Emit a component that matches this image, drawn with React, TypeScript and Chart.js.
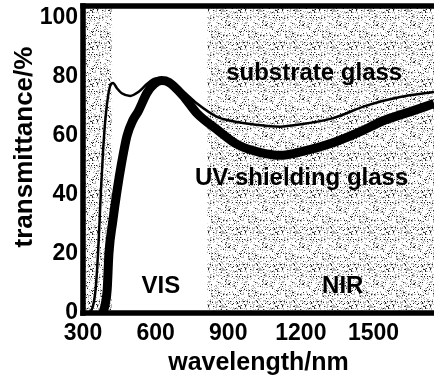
import React, { useEffect, useRef } from "react";
import { Chart, registerables } from "chart.js";

Chart.register(...registerables);

// substrate glass (thin line)
const substrateNm = [322, 340, 352, 362, 374, 383, 393, 403, 413, 424, 440, 460, 495, 530, 565, 600, 630, 660, 713, 771, 854, 920, 1000, 1114, 1200, 1330, 1474, 1610, 1750];
const substrateT = [0, 2, 8, 20, 41, 55, 66, 73, 77, 77.8, 76, 74.3, 73.4, 74.8, 77.5, 79.3, 79.2, 78, 75, 70.8, 66.3, 64.8, 63.8, 63, 63.8, 65.8, 70.2, 73, 74.7];

// UV-shielding glass (thick line)
const uvNm = [382, 392, 400, 407, 423, 440, 460, 482, 505, 527, 565, 595, 625, 655, 713, 771, 854, 937, 1030, 1114, 1200, 1330, 1450, 1540, 1650, 1750];
const uvT = [0, 3, 8, 20, 31, 41, 51, 60, 65, 68, 74.5, 77.5, 78.6, 78, 73.5, 67.5, 62, 57, 54.3, 53.3, 54.5, 57.5, 61.5, 65, 68, 70.8];

const xTicks = [300, 600, 900, 1200, 1500];
const yTicks = [0, 20, 40, 60, 80, 100];
const xMin = 300;
const xMax = 1750;
const yMin = 0;
const yMax = 103.8;

const shadeFrom = [300, 815];
const shadeTo = [420, 1750];

const noteText = ["substrate glass", "UV-shielding glass", "VIS", "NIR"];
const noteX = [1255, 1203, 622, 1373];
const noteY = [78.8, 43.3, 6.7, 6.7];

const xTitle = "wavelength/nm";
const yTitle = "transmittance/%";

const FONT = "'Liberation Sans', Arial, Helvetica, sans-serif";

export default function App() {
  const ref = useRef<HTMLCanvasElement>(null);

  useEffect(() => {
    document.body.style.margin = "0";
    const canvas = ref.current!;

    // stipple tile for shaded regions (deterministic texture)
    const T = 37;
    const tile = document.createElement("canvas");
    tile.width = T;
    tile.height = T;
    const tctx = tile.getContext("2d")!;
    tctx.fillStyle = "#ffffff";
    tctx.fillRect(0, 0, T, T);
    let s = 12345;
    for (let i = 0; i < T * T; i++) {
      s = (s * 1103515245 + 12345) & 0x7fffffff;
      const h = (s >> 8) % 100;
      if (h < 6) {
        tctx.fillStyle = "#222222";
        tctx.fillRect(i % T, Math.floor(i / T), 1, 1);
      } else if (h < 26) {
        tctx.fillStyle = "#b4b4b4";
        tctx.fillRect(i % T, Math.floor(i / T), 1, 1);
      }
    }
    const pattern = canvas.getContext("2d")!.createPattern(tile, "repeat");

    const custom = {
      id: "custom",
      beforeDatasetsDraw(chart: any) {
        const { ctx, chartArea, scales } = chart;
        const x = scales.x;
        ctx.save();
        ctx.fillStyle = pattern as any;
        for (let i = 0; i < shadeFrom.length; i++) {
          const l = x.getPixelForValue(shadeFrom[i]);
          const r = x.getPixelForValue(shadeTo[i]);
          ctx.fillRect(l, chartArea.top, r - l, chartArea.bottom - chartArea.top);
        }
        ctx.restore();
      },
      afterDatasetsDraw(chart: any) {
        const { ctx, chartArea, scales } = chart;
        const { left, right, top, bottom } = chartArea;
        const w = 5.5;
        ctx.save();
        ctx.fillStyle = "#000";
        // frame: left, top, bottom
        ctx.fillRect(left - w / 2, top - w / 2, w, bottom - top + w);
        ctx.fillRect(left - w / 2, top - w / 2, right - left + w, w);
        ctx.fillRect(left - w / 2, bottom - w / 2, right - left + w, w);

        // notes
        ctx.font = `bold 24px ${FONT}`;
        ctx.textAlign = "center";
        ctx.textBaseline = "alphabetic";
        for (let i = 0; i < noteText.length; i++) {
          ctx.fillText(noteText[i], scales.x.getPixelForValue(noteX[i]), scales.y.getPixelForValue(noteY[i]));
        }

        // axis titles
        ctx.font = `bold 25px ${FONT}`;
        ctx.fillText(xTitle, (left + right) / 2, 370);
        ctx.translate(32, 147);
        ctx.rotate(-Math.PI / 2);
        ctx.font = `bold 26px ${FONT}`;
        ctx.fillText(yTitle, 0, 0);
        ctx.restore();
      },
    };

    const chart = new Chart(canvas, {
      type: "line",
      data: {
        datasets: [
          {
            label: "substrate glass",
            data: substrateNm.map((v, i) => ({ x: v, y: substrateT[i] })),
            borderColor: "#000",
            borderWidth: 2.5,
            pointRadius: 0,
            cubicInterpolationMode: "monotone",
            fill: false,
          },
          {
            label: "UV-shielding glass",
            data: uvNm.map((v, i) => ({ x: v, y: uvT[i] })),
            borderColor: "#000",
            borderWidth: 9,
            pointRadius: 0,
            cubicInterpolationMode: "monotone",
            fill: false,
          },
        ],
      },
      options: {
        animation: false,
        responsive: false,
        devicePixelRatio: 1,
        layout: { padding: { top: 6, right: 0, left: 0, bottom: 0 } },
        plugins: { legend: { display: false }, tooltip: { enabled: false } },
        scales: {
          x: {
            type: "linear",
            min: xMin,
            max: xMax,
            grid: { display: false, drawTicks: false },
            border: { display: false },
            afterBuildTicks: (s: any) => {
              s.ticks = xTicks.map((v) => ({ value: v }));
            },
            afterFit: (s: any) => {
              s.height = 69;
              s.paddingLeft = 0;
              s.paddingRight = 0;
            },
            ticks: {
              color: "#000",
              padding: 7,
              maxRotation: 0,
              autoSkip: false,
              font: { family: FONT, size: 23, weight: "bold" },
              callback: (v: any) => String(v),
            },
          },
          y: {
            type: "linear",
            min: yMin,
            max: yMax,
            grid: { display: false, drawTicks: false },
            border: { display: false },
            afterBuildTicks: (s: any) => {
              s.ticks = yTicks.map((v) => ({ value: v }));
            },
            afterFit: (s: any) => {
              s.width = 83;
              s.paddingTop = 0;
              s.paddingBottom = 0;
            },
            ticks: {
              color: "#000",
              padding: 5,
              autoSkip: false,
              font: { family: FONT, size: 23, weight: "bold" },
              callback: (v: any) => String(v),
            },
          },
        },
      },
      plugins: [custom],
    } as any);

    return () => chart.destroy();
  }, []);

  return (
    <div style={{ width: 434, height: 382 }}>
      <canvas ref={ref} width={434} height={382} style={{ display: "block" }} />
    </div>
  );
}
